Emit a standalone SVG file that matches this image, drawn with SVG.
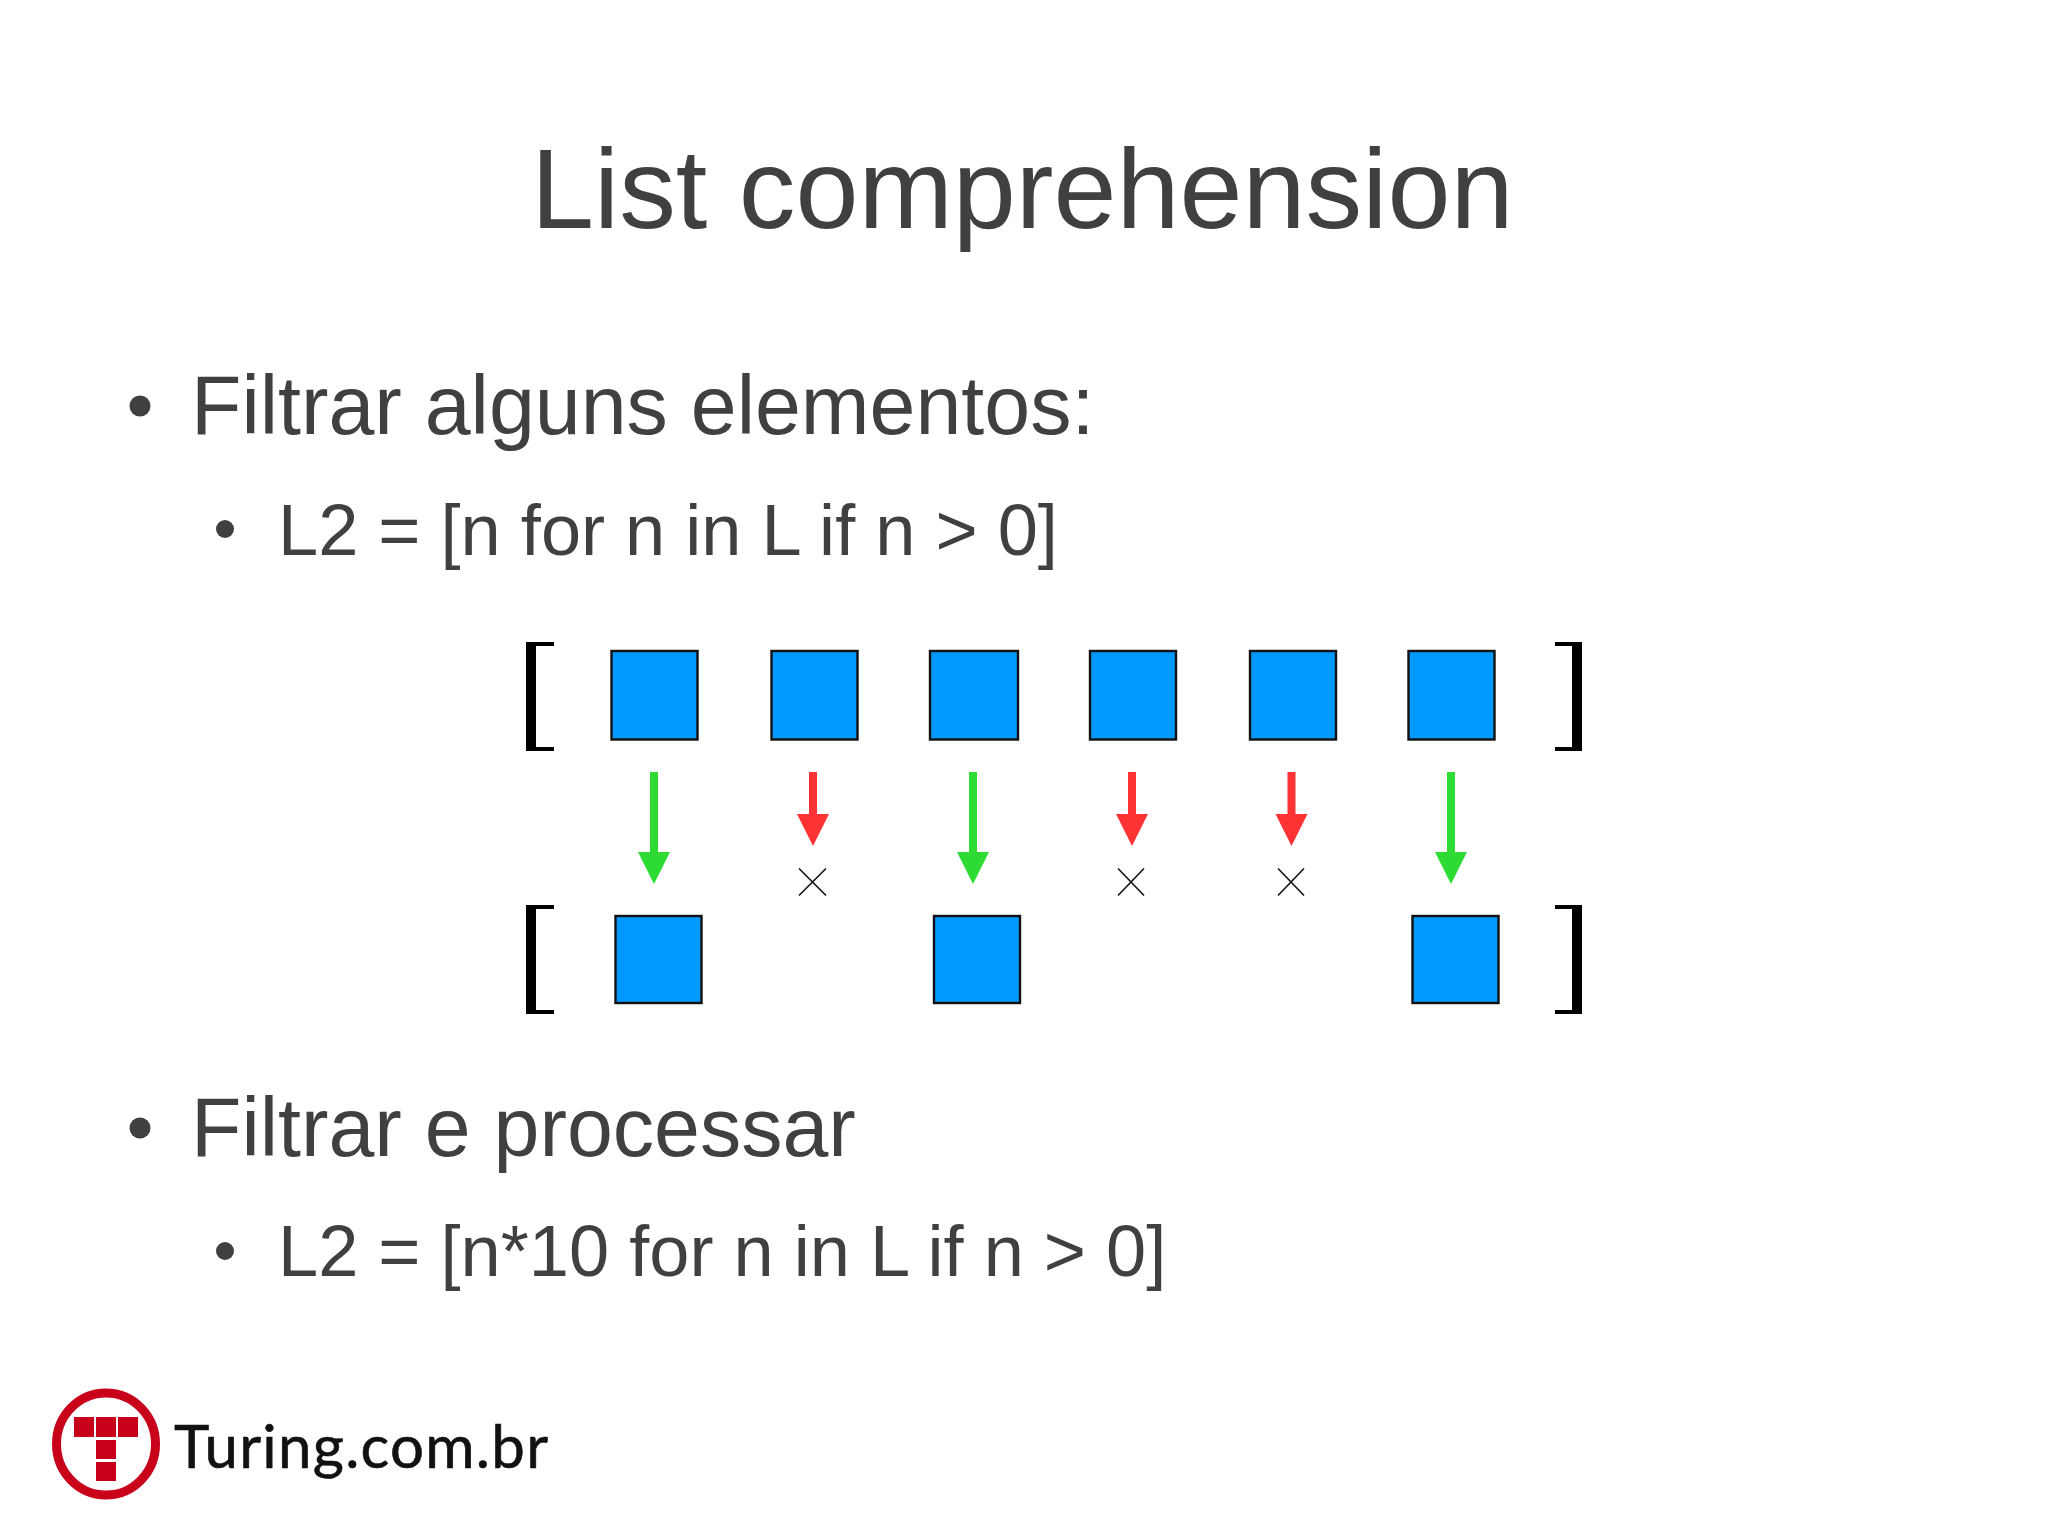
<svg xmlns="http://www.w3.org/2000/svg" width="2048" height="1535" viewBox="0 0 2048 1535">
<style>
text{font-family:"Liberation Sans",Arial,sans-serif;fill:#404040}
.t{font-size:113.3px}
.l1{font-size:82.5px}
.l2{font-size:72.2px}
.b{fill:#404040}
.sq{fill:#0099ff;stroke:#111;stroke-width:2.4px}
.br{fill:#000}
.g{stroke:#2ddb33;stroke-width:8px;fill:none}
.r{stroke:#ff3333;stroke-width:8px;fill:none}
.x{stroke:#111;stroke-width:1.6px;fill:none}
.lg{fill:#c8001a}
</style>
<defs>
<marker id="hg" markerUnits="userSpaceOnUse" markerWidth="32" markerHeight="32" viewBox="0 0 32 32" refX="0" refY="16" orient="auto"><path d="M0,0L32,16L0,32z" fill="#2ddb33"/></marker>
<marker id="hr" markerUnits="userSpaceOnUse" markerWidth="32" markerHeight="32" viewBox="0 0 32 32" refX="0" refY="16" orient="auto"><path d="M0,0L32,16L0,32z" fill="#ff3333"/></marker>
<path id="lb" d="M0,0H28V4H10V105H28V109H0z"/>
<path id="rb" d="M0,0H27V109H0V105H17V4H0z"/>
</defs>
<rect width="2048" height="1535" fill="#fff"/>
<g id="title"><text class="t" x="531" y="228">List comprehension</text></g>
<g id="bullet1"><circle class="b" cx="140" cy="406" r="10.5"/><text class="l1" x="191" y="434">Filtrar alguns elementos:</text></g>
<g id="code1"><circle class="b" cx="225" cy="529" r="9"/><text class="l2" x="278" y="554.5">L2 = [n for n in L if n &gt; 0]</text></g>
<g id="bullet2"><circle class="b" cx="140" cy="1128" r="10.5"/><text class="l1" x="191" y="1155.5">Filtrar e processar</text></g>
<g id="code2"><circle class="b" cx="225" cy="1251" r="9"/><text class="l2" x="278" y="1275.5">L2 = [n*10 for n in L if n &gt; 0]</text></g>
<g id="brackets">
<use class="br" href="#lb" x="526" y="642"/><use class="br" href="#rb" x="1555" y="642"/>
<use class="br" href="#lb" x="526" y="905"/><use class="br" href="#rb" x="1555" y="905"/>
</g>
<g id="input-list">
<rect id="in1" class="sq" x="611.5" y="651" width="86" height="88.5"/>
<rect id="in2" class="sq" x="771.5" y="651" width="86" height="88.5"/>
<rect id="in3" class="sq" x="930" y="651" width="88" height="88.5"/>
<rect id="in4" class="sq" x="1090" y="651" width="86" height="88.5"/>
<rect id="in5" class="sq" x="1250" y="651" width="86" height="88.5"/>
<rect id="in6" class="sq" x="1408.5" y="651" width="86" height="88.5"/>
</g>
<g id="output-list">
<rect id="out1" class="sq" x="615.5" y="916" width="86" height="87"/>
<rect id="out3" class="sq" x="934" y="916" width="86" height="87"/>
<rect id="out6" class="sq" x="1412.5" y="916" width="86" height="87"/>
</g>
<g id="connectors">
<line class="g" x1="654" y1="772" x2="654" y2="852" marker-end="url(#hg)"/>
<line class="r" x1="813" y1="772" x2="813" y2="814" marker-end="url(#hr)"/>
<line class="g" x1="973" y1="772" x2="973" y2="852" marker-end="url(#hg)"/>
<line class="r" x1="1132" y1="772" x2="1132" y2="814" marker-end="url(#hr)"/>
<line class="r" x1="1291.5" y1="772" x2="1291.5" y2="814" marker-end="url(#hr)"/>
<line class="g" x1="1451" y1="772" x2="1451" y2="852" marker-end="url(#hg)"/>
</g>
<g id="crosses">
<path class="x" d="M799,868.500L826,895.500M826,868.500L799,895.500"/>
<path class="x" d="M1118,868.500L1144,895.500M1144,868.500L1118,895.500"/>
<path class="x" d="M1278,868.500L1304,895.500M1304,868.500L1278,895.500"/>
</g>
<g id="logo">
<ellipse cx="106" cy="1444" rx="49.500" ry="51" fill="none" stroke="#c8001a" stroke-width="9"/>
<rect class="lg" x="74" y="1417" width="20" height="20"/><rect class="lg" x="96" y="1417" width="20" height="20"/><rect class="lg" x="118" y="1417" width="20" height="20"/>
<rect class="lg" x="96" y="1440" width="20" height="19"/><rect class="lg" x="96" y="1462" width="20" height="19"/>
<text x="174" y="1468" font-size="60" textLength="374" lengthAdjust="spacing" style="font-family:Lato,'Liberation Sans',sans-serif;fill:#111;stroke:#111;stroke-width:.6px">Turing.com.br</text>
</g>
</svg>
